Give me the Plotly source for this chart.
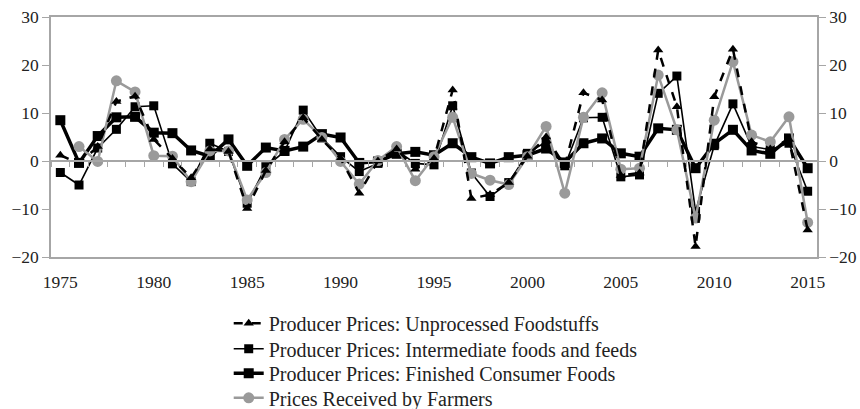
import plotly.graph_objects as go

years = list(range(1975, 2016))

unprocessed = [1.2, -0.5, 3.0, 12.4, 13.5, 4.5, 0.5, -3.5, 2.5, 2.0,
               -9.9, -2.0, 4.0, 9.0, 4.5, 0.5, -6.7, 0.0, 2.5, -1.7,
               0.5, 14.8, -7.8, -7.0, -4.5, 1.0, 5.0, -1.0, 14.2, 12.7,
               -3.0, -2.5, 23.1, 11.3, -17.8, 13.4, 23.3, 4.0, 2.5, 4.5,
               -14.4]

intermediate = [-2.4, -5.0, 2.7, 6.6, 11.3, 11.5, -0.6, -4.3, 3.7, 2.0,
                -8.8, -1.2, 2.0, 10.6, 4.8, 0.9, -2.2, -0.5, 2.2, -0.5,
                -0.8, 11.5, -2.5, -7.4, -4.5, 1.6, 4.0, -1.0, 9.0, 9.1,
                -3.3, -2.9, 14.1, 17.7, -10.5, 3.2, 11.9, 3.0, 2.4, 3.7,
                -6.3]

finished = [8.5, -0.4, 5.2, 9.1, 9.2, 5.9, 5.8, 2.2, 1.0, 4.5,
            -1.0, 2.8, 2.1, 3.0, 5.6, 4.9, -0.4, -0.1, 1.5, 1.9,
            1.2, 3.7, 0.8, -0.5, 0.8, 1.2, 2.6, -0.3, 3.7, 4.7,
            1.6, 0.9, 6.8, 6.5, -1.5, 3.6, 6.5, 2.2, 1.5, 4.7,
            -1.5]

farmers = [None, 3.0, -0.1, 16.7, 14.4, 1.1, 1.0, -4.3, 2.1, 2.1,
           -8.1, -2.4, 4.5, 8.7, 4.9, -0.1, -4.8, 0.1, 3.0, -4.1,
           0.9, 9.1, -2.6, -4.0, -4.9, 0.9, 7.2, -6.7, 9.1, 14.2,
           -1.7, -1.5, 17.9, 6.5, -11.9, 8.5, 20.7, 5.4, 4.0, 9.2,
           -12.8]

names = ["Producer Prices: Unprocessed Foodstuffs",
         "Producer Prices: Intermediate foods and feeds",
         "Producer Prices: Finished Consumer Foods",
         "Prices Received by Farmers"]

x_ticks = [1975, 1980, 1985, 1990, 1995, 2000, 2005, 2010, 2015]
y_ticks = [-20, -10, 0, 10, 20, 30]

AXIS = "#a6a6a6"
SERIF = "Liberation Serif, Times New Roman, serif"
TICK_FONT = dict(family=SERIF, size=17.5, color="#222222")
LEGEND_FONT = dict(family=SERIF, size=20, color="#222222")

fig = go.Figure()

fig.add_trace(go.Scatter(
    x=years, y=unprocessed, name=names[0], mode="lines+markers",
    line=dict(color="black", width=2.5, dash="dash"),
    marker=dict(symbol="triangle-up", size=9, color="black"),
    xaxis="x2", legend="legend",
))
fig.add_trace(go.Scatter(
    x=years, y=intermediate, name=names[1], mode="lines+markers",
    line=dict(color="black", width=1.6),
    marker=dict(symbol="square", size=9, color="black"),
    legend="legend2",
))
fig.add_trace(go.Scatter(
    x=years, y=finished, name=names[2], mode="lines+markers",
    line=dict(color="black", width=3.5),
    marker=dict(symbol="square", size=10, color="black"),
    legend="legend3",
))
fig.add_trace(go.Scatter(
    x=years, y=farmers, name=names[3], mode="lines+markers",
    line=dict(color="#9a9a9a", width=2.5),
    marker=dict(symbol="circle", size=11, color="#9a9a9a"),
    yaxis="y2", legend="legend4",
))

xr = [1974.5, 2015.5]
yr = [-20, 30]


def legend_box(top):
    # one legend row per series, stacked below the plot
    return dict(
        x=0.232, y=top, xanchor="left", yanchor="top",
        xref="paper", yref="container",
        orientation="v", font=LEGEND_FONT, itemwidth=30,
        bgcolor="rgba(0,0,0,0)",
    )


fig.update_layout(
    width=860, height=409,
    margin=dict(l=51, r=43, t=17, b=152, autoexpand=False),
    paper_bgcolor="white", plot_bgcolor="white",
    font=TICK_FONT,
    showlegend=True,
    legend=legend_box(0.2575),
    legend2=legend_box(0.1949),
    legend3=legend_box(0.1352),
    legend4=legend_box(0.0751),
    xaxis=dict(
        range=xr, tickvals=x_ticks, ticks="outside", ticklen=8,
        tickcolor="rgba(0,0,0,0)", showgrid=False, zeroline=False,
        showline=True, linecolor=AXIS, linewidth=1.5, mirror=True,
        tickfont=TICK_FONT,
    ),
    xaxis2=dict(
        range=xr, overlaying="x", anchor="free", position=0.4,
        tick0=1974.5, dtick=1, ticks="outside", ticklen=5, tickcolor=AXIS,
        showticklabels=False, showgrid=False, zeroline=False,
        showline=True, linecolor=AXIS, linewidth=1.5,
    ),
    yaxis=dict(
        range=yr, tickvals=y_ticks, ticks="outside", ticklen=7, tickcolor=AXIS,
        showgrid=False, zeroline=False, showline=True, linecolor=AXIS,
        linewidth=1.5, mirror=True, tickfont=TICK_FONT,
    ),
    yaxis2=dict(
        range=yr, tickvals=y_ticks, overlaying="y", side="right",
        ticks="outside", ticklen=7, tickcolor=AXIS, showgrid=False,
        zeroline=False, showline=True, linecolor=AXIS, linewidth=1.5,
        tickfont=TICK_FONT,
    ),
)

fig.write_html("out.html")
